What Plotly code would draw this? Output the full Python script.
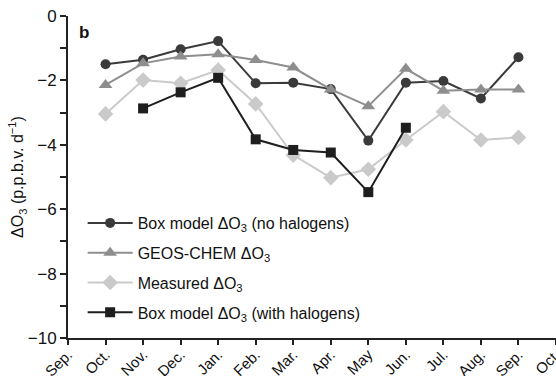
import plotly.graph_objects as go

# Month axis: Sep. through the following Oct.
tick_labels = ["Sep.", "Oct.", "Nov.", "Dec.", "Jan.", "Feb.", "Mar.", "Apr.",
               "May", "Jun.", "Jul.", "Aug.", "Sep.", "Oct."]
months = list(range(1, 13))  # Oct. .. Sep.

# Ozone change (p.p.b.v. per day)
box_no_halogens = [-1.50, -1.36, -1.03, -0.78, -2.09, -2.07, -2.27, -3.87,
                   -2.07, -2.02, -2.56, -1.28]
geos_chem = [-2.14, -1.47, -1.26, -1.19, -1.37, -1.60, -2.28, -2.80,
             -1.64, -2.32, -2.28, -2.28]
measured = [-3.04, -1.99, -2.09, -1.68, -2.73, -4.32, -5.02, -4.76,
            -3.85, -2.97, -3.85, -3.77]
box_with_halogens = [None, -2.87, -2.37, -1.92, -3.83, -4.16, -4.24, -5.47,
                     -3.47, None, None, None]

FONT = "Liberation Sans, Arial, Helvetica, sans-serif"

series = [
    ("Box model ΔO<sub>3</sub> (no halogens)", box_no_halogens, "#3a3a3a", "circle", 10),
    ("GEOS-CHEM ΔO<sub>3</sub>", geos_chem, "#8e8e8e", "triangle-up", 12),
    ("Measured ΔO<sub>3</sub>", measured, "#cacaca", "diamond", 12),
    ("Box model ΔO<sub>3</sub> (with halogens)", box_with_halogens, "#1e1e1e", "square", 10),
]

fig = go.Figure()
for i, (name, vals, color, symbol, size) in enumerate(series):
    fig.add_trace(go.Scatter(
        x=months, y=vals, name=name, mode="lines+markers",
        legendgroup=f"g{i}",
        line=dict(color=color, width=2),
        marker=dict(color=color, symbol=symbol, size=size,
                    line=dict(width=0)),
        connectgaps=False,
    ))

ytick_vals = list(range(-10, 1))
ytick_text = [("−" + str(-v) if v < 0 else str(v)) if v % 2 == 0 else ""
              for v in ytick_vals]

fig.update_layout(
    width=556, height=376,
    margin=dict(l=68, r=0, t=16, b=38),
    paper_bgcolor="white", plot_bgcolor="white",
    font=dict(family=FONT, size=16, color="#111"),
    showlegend=True,
    legend=dict(
        x=0.03, y=0.41, xanchor="left", yanchor="top",
        bgcolor="rgba(0,0,0,0)", font=dict(size=16, color="#111"),
        tracegroupgap=6, itemwidth=45,
    ),
    xaxis=dict(
        range=[0, 13], tickmode="array", tickvals=list(range(14)),
        ticktext=tick_labels, tickangle=-45,
        showgrid=False, zeroline=False, automargin=False,
        ticklabeloverflow="allow", ticklabelstandoff=-5,
        showline=True, linecolor="#222", linewidth=2,
        ticks="outside", ticklen=5, tickwidth=2, tickcolor="#222",
        tickfont=dict(size=15),
    ),
    yaxis=dict(
        range=[-10, 0], tickmode="array", tickvals=ytick_vals,
        ticktext=ytick_text, automargin=False,
        showgrid=False, zeroline=False,
        showline=True, linecolor="#222", linewidth=2,
        ticks="outside", ticklen=6, tickwidth=2, tickcolor="#222",
        tickfont=dict(size=17),
        title=dict(text="ΔO<sub>3</sub> (p.p.b.v. d<sup>−1</sup>)",
                   font=dict(size=16), standoff=0),
    ),
    annotations=[dict(
        text="<b>b</b>", x=0.018, y=0.985, xref="paper", yref="paper",
        xanchor="left", yanchor="top", showarrow=False,
        font=dict(size=17, color="#111"),
    )],
)

fig.write_html("out.html")
